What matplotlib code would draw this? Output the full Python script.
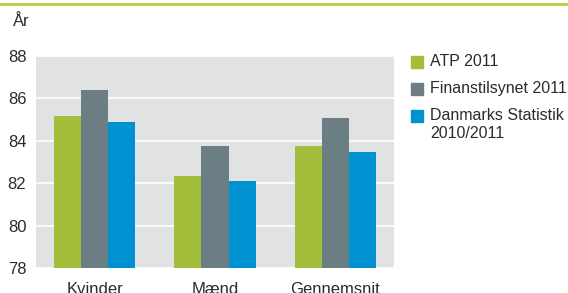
import numpy as np
import matplotlib.pyplot as plt
from matplotlib.lines import Line2D

plt.rcParams['font.family'] = ['Liberation Sans', 'DejaVu Sans']

categories = ["Kvinder", "Mænd", "Gennemsnit"]
series_names = ["ATP 2011", "Finanstilsynet 2011", "Danmarks Statistik\n2010/2011"]
atp = [85.17, 82.34, 83.75]
finans = [86.40, 83.75, 85.08]
dst = [84.89, 82.10, 83.47]
yticks = [78, 80, 82, 84, 86, 88]

colors = ["#a2be3b", "#6b7e83", "#0092d0"]
text_col = "#2b2b2b"

fig = plt.figure(figsize=(5.68, 2.93), dpi=100)
ax = fig.add_axes([36 / 568, 1 - 268 / 293, 358 / 568, 212 / 293])
ax.set_facecolor("#e1e2e4")

x = np.arange(len(categories))
w = 0.225
for i, (vals, c) in enumerate(zip([atp, finans, dst], colors)):
    ax.bar(x + (i - 1) * w, np.array(vals) - 78, width=w, bottom=78,
           color=c, zorder=3, linewidth=0)

ax.set_ylim(78, 88)
ax.set_xlim(-0.49, 2.49)
ax.set_yticks(yticks)
ax.set_xticks(x)
ax.set_xticklabels(categories)
ax.grid(axis="y", color="white", linewidth=1.2, zorder=1)
ax.tick_params(axis="both", length=0, labelsize=12, colors=text_col)
ax.tick_params(axis="y", pad=7)
ax.tick_params(axis="x", pad=10)
for s in ax.spines.values():
    s.set_visible(False)

fig.text(13 / 568, 1 - 21 / 293, "År", fontsize=12, color=text_col, va="center")

# legend
leg_y = [62, 89, 116]
for name, c, yy in zip(series_names, colors, leg_y):
    fig.patches.append(plt.Rectangle((411 / 568, 1 - (yy + 6) / 293), 12 / 568, 12 / 293,
                                     transform=fig.transFigure, color=c, figure=fig))
    fig.text(430 / 568, 1 - (yy - 8) / 293, name, fontsize=11.5, color=text_col,
             va="top", linespacing=1.25)

# top rule
fig.add_artist(Line2D([0, 1], [1 - 3.5 / 293] * 2, transform=fig.transFigure,
                      color="#b8cd3f", linewidth=2))

fig.savefig("out.png", dpi=100)
